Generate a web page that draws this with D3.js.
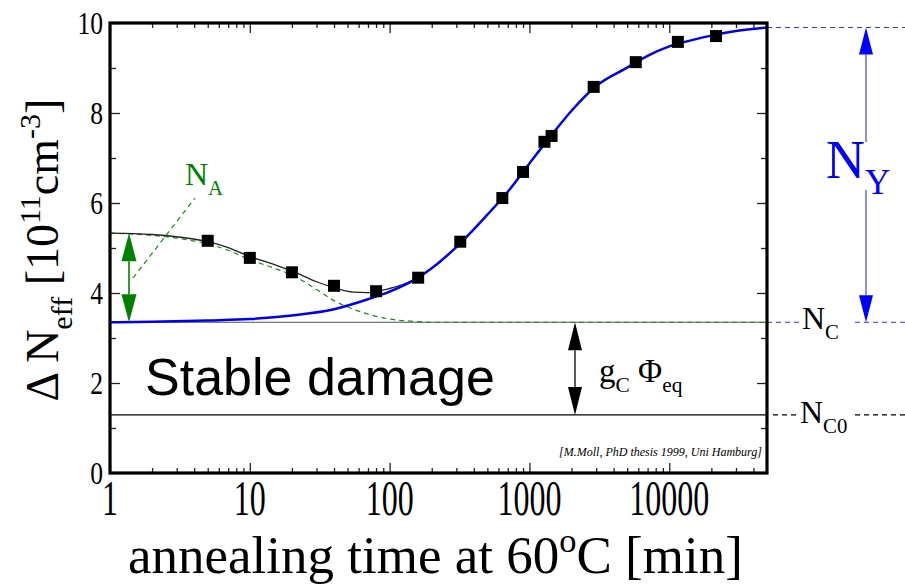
<!DOCTYPE html>
<html><head><meta charset="utf-8">
<script src="https://cdn.jsdelivr.net/npm/d3@7"></script>
<style>body{margin:0;background:#fff}svg{display:block}</style>
</head><body>
<svg id="chart" width="905" height="587"></svg>
<script>
// Measured change of effective doping vs. annealing time at 60 °C
const measuredTime = [5, 10, 20, 40, 80, 160, 320, 640, 900, 1280, 1440, 2880, 5760, 11520, 21600];
const measuredDN   = [5.16, 4.78, 4.46, 4.16, 4.04, 4.34, 5.14, 6.11, 6.69, 7.36, 7.49, 8.58, 9.13, 9.58, 9.71];

// Total fit (beneficial + reverse annealing) in the short-term region
const fitTime  = [1, 2, 3, 5, 7, 10, 15, 20, 30, 40, 55, 70, 100, 150, 200, 300];
const fitTotal = [5.33, 5.30, 5.25, 5.14, 5.01, 4.81, 4.63, 4.49, 4.25, 4.12, 4.02, 4.01, 4.10, 4.30, 4.55, 5.02];

// Stable damage + reverse annealing component
const reverseTime = [1, 2, 5, 10, 20, 40, 70, 100, 150, 200, 300, 500, 700, 1000, 1500, 2000, 3000, 5000, 7000, 10000, 15000, 20000, 30000, 50000];
const reverseDN   = [3.35, 3.36, 3.39, 3.42, 3.50, 3.64, 3.86, 4.03, 4.29, 4.55, 5.02, 5.74, 6.25, 6.88, 7.58, 8.05, 8.60, 9.01, 9.27, 9.48, 9.63, 9.72, 9.82, 9.90];

// Stable damage + beneficial annealing component
const beneficialTime = [1, 2, 3, 5, 7, 10, 15, 20, 30, 40, 50, 70, 100, 150, 200, 50000];
const beneficialDN   = [5.33, 5.28, 5.22, 5.09, 4.95, 4.74, 4.55, 4.40, 4.08, 3.83, 3.69, 3.53, 3.42, 3.37, 3.35, 3.35];

// Characteristic levels
const levelNC  = 3.35;
const levelNC0 = 1.29;
const levelNY  = 9.90;
const levelNA  = 5.33;

const xTickValues = [1, 10, 100, 1000, 10000];
const xTickLabels = ["1", "10", "100", "1000", "10000"];
const yTickValues = [0, 2, 4, 6, 8, 10];
const yTickLabels = ["0", "2", "4", "6", "8", "10"];

const serif = "'Liberation Serif','Times New Roman',serif";
const sans  = "'Liberation Sans',Arial,sans-serif";

const svg = d3.select("#chart");
const plotL = 110, plotR = 767, plotT = 23, plotB = 473;

const x = d3.scaleLog().domain([1, 50000]).range([plotL, plotR]);
const y = d3.scaleLinear().domain([0, 10]).range([plotB, plotT]);

// minor ticks
const xMinor = [];
for (let d = 1; d <= 10000; d *= 10) for (let k = 2; k <= 9; k++) if (d * k < 50000) xMinor.push(d * k);
const yMinor = d3.range(1, 10, 2);

const axes = svg.append("g");
axes.append("g").attr("transform", `translate(0,${plotB})`)
  .call(d3.axisBottom(x).tickValues(xTickValues).tickSize(-10).tickFormat(""));
axes.append("g").attr("transform", `translate(0,${plotB})`)
  .call(d3.axisBottom(x).tickValues(xMinor).tickSize(-5).tickFormat(""));
axes.append("g").attr("transform", `translate(0,${plotT})`)
  .call(d3.axisTop(x).tickValues(xTickValues).tickSize(-10).tickFormat(""));
axes.append("g").attr("transform", `translate(0,${plotT})`)
  .call(d3.axisTop(x).tickValues(xMinor).tickSize(-5).tickFormat(""));
axes.append("g").attr("transform", `translate(${plotL},0)`)
  .call(d3.axisLeft(y).tickValues(yTickValues).tickSize(-10).tickFormat(""));
axes.append("g").attr("transform", `translate(${plotL},0)`)
  .call(d3.axisLeft(y).tickValues(yMinor).tickSize(-6).tickFormat(""));
axes.append("g").attr("transform", `translate(${plotR},0)`)
  .call(d3.axisRight(y).tickValues(yTickValues).tickSize(-10).tickFormat(""));
axes.append("g").attr("transform", `translate(${plotR},0)`)
  .call(d3.axisRight(y).tickValues(yMinor).tickSize(-6).tickFormat(""));
axes.selectAll(".domain").remove();
axes.selectAll(".tick line").attr("stroke", "#222").attr("stroke-width", 1.3);

// tick labels (narrow, tall serif digits)
const xLabY = 515;
svg.append("g").selectAll("text").data(xTickValues).join("text")
  .attr("text-anchor", "middle")
  .attr("font-family", serif).attr("font-size", 50)
  .attr("transform", d => `translate(${x(d)},${xLabY}) scale(0.64,1)`)
  .text((d, i) => xTickLabels[i]);
svg.append("g").selectAll("text").data(yTickValues).join("text")
  .attr("text-anchor", "end")
  .attr("font-family", serif).attr("font-size", 32)
  .attr("transform", d => `translate(103,${y(d) + 11}) scale(0.8,1)`)
  .text((d, i) => yTickLabels[i]);

// reference levels inside the frame
svg.append("line").attr("x1", plotL).attr("x2", plotR).attr("y1", y(levelNC)).attr("y2", y(levelNC))
  .attr("stroke", "#555").attr("stroke-width", 1.2);
svg.append("line").attr("x1", plotL).attr("x2", plotR).attr("y1", y(levelNC0)).attr("y2", y(levelNC0))
  .attr("stroke", "#000").attr("stroke-width", 1.2);

// reference levels outside the frame
const dashSeg = (x1, x2, v, color) => svg.append("line")
  .attr("x1", x1).attr("x2", x2).attr("y1", y(v)).attr("y2", y(v))
  .attr("stroke", color).attr("stroke-width", 1.2).attr("stroke-dasharray", "5,4");
dashSeg(plotR, 905, levelNY, "#3030ff");
dashSeg(plotR, 800, levelNC, "#3030ff");
dashSeg(855, 905, levelNC, "#3030ff");
dashSeg(plotR + 6, 800, levelNC0, "#000");
dashSeg(855, 905, levelNC0, "#000");

// curves
const line = d3.line().x(d => x(d[0])).y(d => y(d[1])).curve(d3.curveMonotoneX);
svg.append("path").datum(d3.zip(beneficialTime, beneficialDN)).attr("d", line)
  .attr("fill", "none").attr("stroke", "#1a8a1a").attr("stroke-width", 1.2).attr("stroke-dasharray", "5,4");
svg.append("path").datum(d3.zip(fitTime, fitTotal)).attr("d", line)
  .attr("fill", "none").attr("stroke", "#222").attr("stroke-width", 1.3);
svg.append("path").datum(d3.zip(reverseTime, reverseDN)).attr("d", line)
  .attr("fill", "none").attr("stroke", "#0000ee").attr("stroke-width", 2.5);

// data points
const sq = 12;
svg.append("g").selectAll("rect").data(d3.zip(measuredTime, measuredDN)).join("rect")
  .attr("x", d => x(d[0]) - sq / 2).attr("y", d => y(d[1]) - sq / 2)
  .attr("width", sq).attr("height", sq).attr("fill", "#000");

// frame
svg.append("rect").attr("x", plotL).attr("y", plotT).attr("width", plotR - plotL).attr("height", plotB - plotT)
  .attr("fill", "none").attr("stroke", "#000").attr("stroke-width", 3.2);

// double-headed vertical arrows
function arrow(xp, v1, v2, color, lineColor, headLen, headW, segs) {
  const y1 = y(v1), y2 = y(v2);
  const g = svg.append("g");
  (segs || [[y1 + headLen, y2 - headLen]]).forEach(s => g.append("line")
    .attr("x1", xp).attr("x2", xp).attr("y1", s[0]).attr("y2", s[1])
    .attr("stroke", lineColor).attr("stroke-width", 1.6));
  g.append("path").attr("d", `M${xp},${y1}L${xp - headW / 2},${y1 + headLen}L${xp + headW / 2},${y1 + headLen}Z`).attr("fill", color);
  g.append("path").attr("d", `M${xp},${y2}L${xp - headW / 2},${y2 - headLen}L${xp + headW / 2},${y2 - headLen}Z`).attr("fill", color);
}
arrow(129, levelNA, levelNC, "#008000", "#008000", 28, 15);
arrow(575, levelNC, levelNC0, "#000", "#333", 28, 14);
arrow(866, levelNY, levelNC, "#0000ff", "#7070ff", 27, 14, [[y(levelNY) + 27, 142], [190, y(levelNC) - 27]]);

// pointer for N_A
svg.append("line").attr("x1", 133).attr("y1", 278).attr("x2", 195).attr("y2", 198)
  .attr("stroke", "#1a8a1a").attr("stroke-width", 1.2).attr("stroke-dasharray", "5,4");

// text helper: runs of normal, subscript and superscript text
function label(xp, yp, parts, size, color, family) {
  const t = svg.append("text").attr("x", xp).attr("y", yp)
    .attr("font-family", family || serif).attr("font-size", size).attr("fill", color || "#000");
  let shift = 0;
  parts.forEach(p => {
    const ts = t.append("tspan").text(p.t);
    const target = p.sub ? 0.3 * size : p.sup ? -0.4 * size : 0;
    if (target !== shift) ts.attr("dy", target - shift);
    shift = target;
    if (p.sub || p.sup) ts.attr("font-size", size * 0.65);
  });
  return t;
}

label(185, 185, [{t: "N"}, {t: "A", sub: true}], 32, "#008000");
label(826, 178, [{t: "N"}, {t: "Y", sub: true}], 54, "#0000ff");
label(802, 329, [{t: "N"}, {t: "C", sub: true}], 32, "#000");
label(800, 423, [{t: "N"}, {t: "C0", sub: true}], 32, "#000");
label(599, 382, [{t: "g"}, {t: "C", sub: true}, {t: " Φ"}, {t: "eq", sub: true}], 33, "#000");

svg.append("text").attr("x", 145).attr("y", 395)
  .attr("font-family", sans).attr("font-size", 52).text("Stable damage");

svg.append("text").attr("x", 762).attr("y", 456).attr("text-anchor", "end")
  .attr("font-family", serif).attr("font-style", "italic").attr("font-size", 12)
  .text("[M.Moll, PhD thesis 1999, Uni Hamburg]");

// axis titles
label(128, 573, [{t: "annealing time at 60"}, {t: "o", sup: true}, {t: "C [min]"}], 53, "#000");

const yt = svg.append("text").attr("transform", "translate(58,250) rotate(-90)")
  .attr("text-anchor", "middle").attr("font-family", serif).attr("font-size", 46);
yt.append("tspan").text("Δ N");
yt.append("tspan").text("eff").attr("dy", 14).attr("font-size", 30);
yt.append("tspan").text(" [10").attr("dy", -14);
yt.append("tspan").text("11").attr("dy", -18).attr("font-size", 30);
yt.append("tspan").text("cm").attr("dy", 18);
yt.append("tspan").text("-3").attr("dy", -18).attr("font-size", 30);
yt.append("tspan").text("]").attr("dy", 18);
</script>
</body></html>
